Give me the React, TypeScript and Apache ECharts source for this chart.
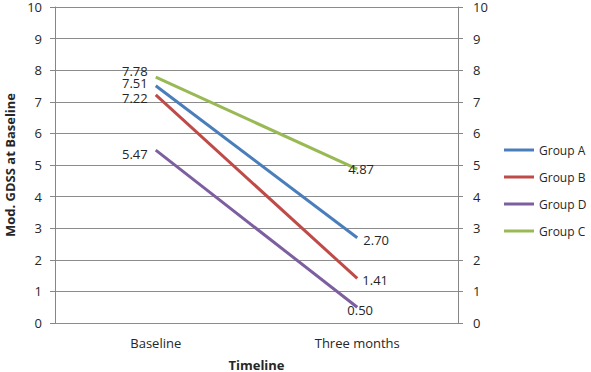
import React, { useEffect, useRef } from "react";
import * as echarts from "echarts";

const categories = ["Baseline", "Three months"];
const groupNames = ["Group A", "Group B", "Group D", "Group C"];
const groupA = [7.51, 2.7];
const groupB = [7.22, 1.41];
const groupD = [5.47, 0.5];
const groupC = [7.78, 4.87];
const colors = ["#4A7EBB", "#BE4B48", "#7D5FA0", "#98B954"];

const FONT = "'Open Sans', 'DejaVu Sans', sans-serif";
const TXT = "#262626";

// label placement per series: [baseline, three months]
const labelCfg: any[][] = [
  [{ position: "left", distance: 8, offset: [0, -3] }, { position: "right", distance: 6, offset: [0, 2] }],
  [{ position: "left", distance: 8, offset: [0, 3] }, { position: "right", distance: 5, offset: [0, 2] }],
  [{ position: "left", distance: 8, offset: [0, 4] }, { position: "right", distance: -10, offset: [0, 3] }],
  [{ position: "left", distance: 8, offset: [0, -6] }, { position: "right", distance: -9, offset: [0, 0] }],
];

export default function App() {
  const ref = useRef<HTMLDivElement>(null);
  useEffect(() => {
    if (!ref.current) return;
    const chart = echarts.init(ref.current, undefined, { renderer: "svg" });
    const seriesData = [groupA, groupB, groupD, groupC];
    const yAxisBase = {
      type: "value",
      min: 0,
      max: 10,
      interval: 1,
      axisLine: { show: true, lineStyle: { color: "#868686", width: 1 } },
      axisTick: { show: true, length: 5, lineStyle: { color: "#868686" } },
    };
    chart.setOption({
      animation: false,
      textStyle: { fontFamily: FONT },
      grid: { left: 55, right: 133, top: 7, bottom: 49, containLabel: false, outerBoundsMode: "none" },
      xAxis: {
        type: "category",
        data: categories,
        boundaryGap: true,
        name: "Timeline",
        nameLocation: "middle",
        nameGap: 35,
        nameTextStyle: { color: TXT, fontSize: 13, fontWeight: "bold", fontFamily: FONT },
        axisLine: { show: false },
        axisTick: { show: false },
        axisLabel: { color: TXT, fontSize: 13, fontFamily: FONT, margin: 13 },
      },
      yAxis: [
        {
          ...yAxisBase,
          position: "left",
          name: "Mod. GDSS at Baseline",
          nameLocation: "middle",
          nameGap: 36,
          nameTextStyle: { color: TXT, fontSize: 13, fontWeight: "bold", fontFamily: FONT },
          axisLabel: { color: TXT, fontSize: 13, fontFamily: FONT, margin: 13, lineHeight: 12 },
          splitLine: { show: true, lineStyle: { color: "#8C8C8C", width: 1 } },
        },
        {
          ...yAxisBase,
          position: "right",
          axisLabel: { color: TXT, fontSize: 13, fontFamily: FONT, margin: 15, lineHeight: 12 },
          splitLine: { show: false },
        },
      ],
      legend: {
        orient: "vertical",
        left: 504,
        top: 142,
        padding: 0,
        itemWidth: 30,
        itemHeight: 3,
        itemGap: 11,
        icon: "rect",
        data: groupNames,
        textStyle: { color: TXT, fontSize: 12, fontFamily: FONT, lineHeight: 16 },
      },
      series: seriesData.map((vals, i) => ({
        name: groupNames[i],
        type: "line",
        yAxisIndex: 0,
        showSymbol: true,
        symbol: "circle",
        symbolSize: 0.1,
        lineStyle: { color: colors[i], width: 3 },
        itemStyle: { color: colors[i] },
        data: vals.map((v, j) => ({
          value: v,
          label: {
            show: true,
            formatter: v.toFixed(2),
            color: TXT,
            fontSize: 13,
            lineHeight: 12,
            fontFamily: FONT,
            ...labelCfg[i][j],
          },
        })),
      })),
    });
    return () => chart.dispose();
  }, []);
  return <div ref={ref} style={{ width: 591, height: 372, position: "absolute", left: 0, top: 0 }} />;
}
